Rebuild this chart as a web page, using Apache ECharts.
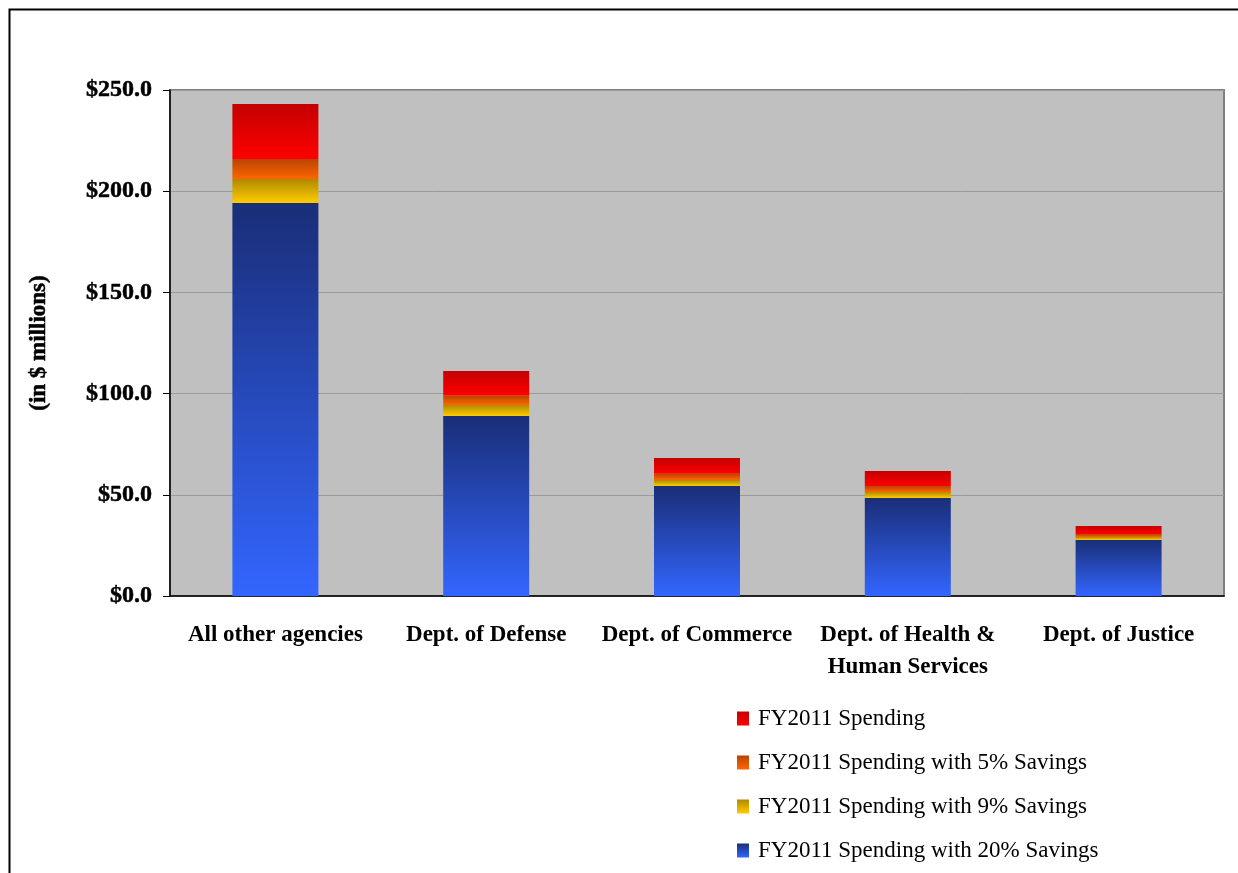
<!DOCTYPE html>
<html>
<head>
<meta charset="utf-8">
<script src="https://cdn.jsdelivr.net/npm/echarts@6/dist/echarts.min.js"></script>
<style>
html,body{margin:0;padding:0;background:#fff;}
#chart{width:1238px;height:873px;}
</style>
</head>
<body>
<div id="chart"></div>
<script>
const categories = ['All other agencies', 'Dept. of Defense', 'Dept. of Commerce', 'Dept. of Health &\nHuman Services', 'Dept. of Justice'];
const spending = [243.1, 111.2, 68.2, 61.8, 34.6];
const spending5 = [215.9, 99.0, 60.4, 54.3, 30.6];
const spending9 = [206.0, 94.4, 57.3, 51.4, 29.1];
const spending20 = [194.2, 88.9, 54.3, 48.4, 27.7];
const seriesNames = ['FY2011 Spending', 'FY2011 Spending with 5% Savings', 'FY2011 Spending with 9% Savings', 'FY2011 Spending with 20% Savings'];

const FONT = "'Liberation Serif', 'Times New Roman', serif";
const grad = (a, b) => new echarts.graphic.LinearGradient(0, 0, 0, 1, [{offset: 0, color: a}, {offset: 1, color: b}]);
const diff = (hi, lo) => hi.map((v, i) => +(v - lo[i]).toFixed(1));

const chart = echarts.init(document.getElementById('chart'));
const segs = [
  {name: seriesNames[3], data: spending20, color: grad('#1a2e78', '#3366ff')},
  {name: seriesNames[2], data: diff(spending9, spending20), color: grad('#b08800', '#ffcc00')},
  {name: seriesNames[1], data: diff(spending5, spending9), color: grad('#b84400', '#ff6600')},
  {name: seriesNames[0], data: diff(spending, spending5), color: grad('#c40000', '#ff0000')}
];
chart.setOption({
  animation: false,
  backgroundColor: '#ffffff',
  graphic: [{
    type: 'rect', left: 7, top: 7, z: 100, silent: true,
    shape: {x: 0, y: 0, width: 1250, height: 890},
    style: {fill: 'none', stroke: '#000', lineWidth: 2}
  }],
  grid: {
    left: 170, right: 14, top: 90, bottom: 277,
    show: true, backgroundColor: '#c0c0c0', borderColor: '#808080', borderWidth: 2
  },
  legend: {
    orient: 'vertical', left: 732, top: 702, itemGap: 21,
    itemWidth: 12, itemHeight: 14, icon: 'rect',
    data: seriesNames,
    textStyle: {fontFamily: FONT, fontSize: 23, color: '#000', lineHeight: 22, padding: [0, 0, 0, 4]}
  },
  xAxis: {
    type: 'category', data: categories,
    axisLine: {lineStyle: {color: '#000', width: 1.5}},
    axisTick: {length: 7, lineStyle: {color: '#000'}},
    axisLabel: {fontFamily: FONT, fontSize: 23, fontWeight: 'bold', color: '#000', margin: 23, lineHeight: 32, interval: 0}
  },
  yAxis: {
    type: 'value', min: 0, max: 250, interval: 50,
    name: '(in $ millions)', nameLocation: 'middle', nameGap: 119, nameRotate: 90,
    nameTextStyle: {fontFamily: FONT, fontSize: 23, fontWeight: 700, color: '#000',
      textBorderColor: '#000', textBorderWidth: 0.5},
    axisLine: {show: true, lineStyle: {color: '#000', width: 1.5}},
    axisTick: {show: true, length: 7, lineStyle: {color: '#000'}},
    axisLabel: {fontFamily: FONT, fontSize: 24, fontWeight: 700, color: '#000', margin: 18,
      textBorderColor: '#000', textBorderWidth: 0.5,
      formatter: v => '$' + v.toFixed(1)},
    splitLine: {lineStyle: {color: '#9a9a9a', width: 1}}
  },
  series: segs.map(s => ({
    type: 'bar', name: s.name, stack: 'total', data: s.data, barWidth: 86,
    itemStyle: {color: s.color}
  }))
});
</script>
</body>
</html>
